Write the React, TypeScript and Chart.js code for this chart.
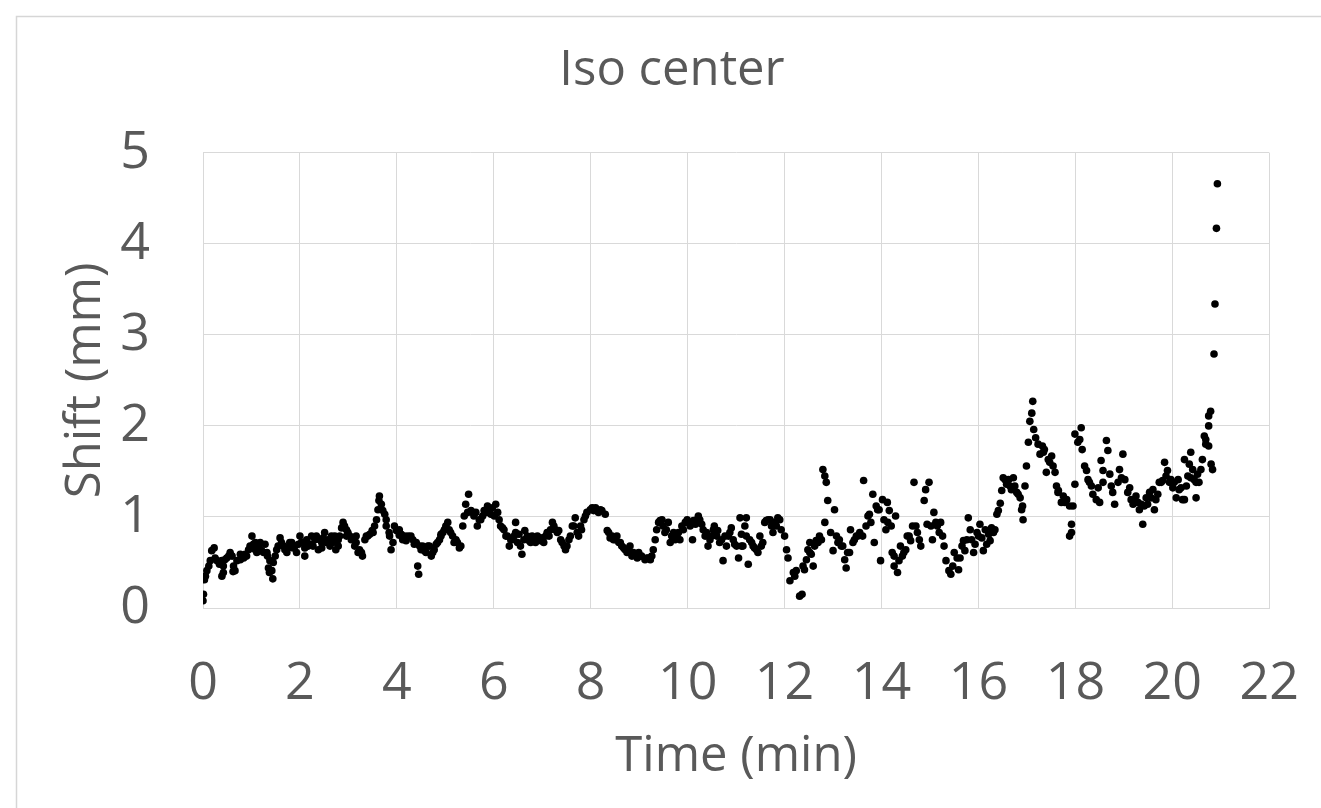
import React, { useEffect, useRef } from "react";
import { Chart, registerables } from "chart.js";

Chart.register(...registerables);

const chartTitle = "Iso center";
const xAxisTitle = "Time (min)";
const yAxisTitle = "Shift (mm)";
const xRange = [0, 22];
const yRange = [0, 5];
const xStep = 2;
const yStep = 1;

// [time (min), shift (mm)]
const segment0to4: [number, number][] = [
  [0, 0.08], [0.01, 0.15], [0.03, 0.31], [0.05, 0.35], [0.08, 0.41], [0.12, 0.46], [0.15, 0.52], [0.18, 0.63],
  [0.23, 0.66], [0.25, 0.55], [0.29, 0.52], [0.34, 0.48], [0.39, 0.35], [0.39, 0.52], [0.42, 0.39], [0.42, 0.46],
  [0.45, 0.53], [0.49, 0.55], [0.53, 0.57], [0.56, 0.61], [0.6, 0.57], [0.62, 0.4], [0.63, 0.46], [0.66, 0.41],
  [0.7, 0.52], [0.77, 0.53], [0.77, 0.59], [0.84, 0.55], [0.87, 0.59], [0.9, 0.57], [0.94, 0.64], [0.97, 0.68],
  [1.01, 0.79], [1.04, 0.7], [1.08, 0.64], [1.08, 0.72], [1.11, 0.61], [1.14, 0.68], [1.18, 0.72], [1.21, 0.63],
  [1.25, 0.61], [1.28, 0.7], [1.32, 0.61], [1.33, 0.57], [1.35, 0.44], [1.37, 0.39], [1.38, 0.52], [1.42, 0.41],
  [1.44, 0.32], [1.45, 0.5], [1.49, 0.57], [1.52, 0.64], [1.55, 0.68], [1.59, 0.77], [1.62, 0.72], [1.66, 0.68],
  [1.69, 0.64], [1.73, 0.61], [1.76, 0.66], [1.79, 0.72], [1.83, 0.72], [1.86, 0.66], [1.9, 0.68], [1.93, 0.61],
  [1.97, 0.7], [2.0, 0.79], [2.03, 0.72], [2.07, 0.72], [2.1, 0.57], [2.1, 0.66], [2.14, 0.75], [2.17, 0.68],
  [2.21, 0.7], [2.24, 0.79], [2.27, 0.68], [2.31, 0.75], [2.34, 0.79], [2.38, 0.64], [2.41, 0.75], [2.45, 0.72],
  [2.45, 0.66], [2.48, 0.77], [2.51, 0.83], [2.55, 0.72], [2.58, 0.75], [2.62, 0.68], [2.65, 0.79], [2.68, 0.72],
  [2.72, 0.79], [2.74, 0.64], [2.79, 0.75], [2.79, 0.68], [2.82, 0.79], [2.86, 0.88], [2.89, 0.94], [2.92, 0.9],
  [2.96, 0.86], [2.96, 0.79], [2.99, 0.83], [3.03, 0.79], [3.06, 0.75], [3.1, 0.77], [3.13, 0.68], [3.16, 0.72],
  [3.16, 0.79], [3.2, 0.61], [3.23, 0.64], [3.27, 0.61], [3.29, 0.57], [3.34, 0.75], [3.37, 0.79], [3.4, 0.79],
  [3.44, 0.81], [3.49, 0.85], [3.51, 0.83], [3.54, 0.9], [3.58, 0.97], [3.61, 1.08], [3.63, 1.18], [3.64, 1.23],
  [3.68, 1.14], [3.71, 1.07], [3.75, 1.03], [3.78, 0.97], [3.78, 0.9], [3.84, 0.83], [3.85, 0.79], [3.88, 0.64],
  [3.92, 0.72], [3.95, 0.9], [3.99, 0.85], [4.05, 0.8], [4.05, 0.83],
];

const segment4to8: [number, number][] = [
  [4.05, 0.86], [4.09, 0.81], [4.12, 0.75], [4.16, 0.79], [4.19, 0.74], [4.23, 0.79], [4.29, 0.79], [4.33, 0.75],
  [4.36, 0.7], [4.4, 0.72], [4.43, 0.46], [4.45, 0.37], [4.47, 0.68], [4.5, 0.64], [4.53, 0.68], [4.57, 0.63],
  [4.6, 0.61], [4.64, 0.68], [4.67, 0.68], [4.71, 0.57], [4.74, 0.61], [4.77, 0.64], [4.81, 0.7], [4.84, 0.72],
  [4.88, 0.75], [4.91, 0.81], [4.91, 0.79], [4.95, 0.83], [4.98, 0.86], [5.01, 0.9], [5.05, 0.94], [5.08, 0.86],
  [5.11, 0.83], [5.15, 0.79], [5.18, 0.72], [5.22, 0.75], [5.25, 0.72], [5.29, 0.66], [5.32, 0.68], [5.36, 0.9],
  [5.39, 1.01], [5.42, 1.14], [5.46, 1.05], [5.48, 1.25], [5.53, 1.07], [5.56, 1.05], [5.59, 1.01], [5.63, 1.05],
  [5.66, 0.9], [5.7, 0.97], [5.73, 0.97], [5.77, 1.01], [5.8, 1.07], [5.84, 1.05], [5.87, 1.12], [5.9, 1.05],
  [5.94, 1.03], [5.97, 1.1], [6.01, 1.01], [6.04, 1.14], [6.08, 1.05], [6.11, 0.97], [6.14, 0.9], [6.18, 0.88],
  [6.21, 0.86], [6.25, 0.79], [6.28, 0.79], [6.32, 0.68], [6.35, 0.75], [6.38, 0.75], [6.42, 0.79], [6.45, 0.94],
  [6.45, 0.83], [6.49, 0.72], [6.52, 0.81], [6.55, 0.68], [6.58, 0.59], [6.62, 0.75], [6.64, 0.85], [6.69, 0.79],
  [6.73, 0.74], [6.76, 0.72], [6.79, 0.79], [6.83, 0.75], [6.86, 0.72], [6.9, 0.79], [6.93, 0.77], [6.97, 0.74],
  [7.0, 0.77], [7.03, 0.72], [7.07, 0.79], [7.1, 0.83], [7.14, 0.79], [7.17, 0.86], [7.21, 0.94], [7.24, 0.9],
  [7.27, 0.86], [7.31, 0.83], [7.34, 0.85], [7.38, 0.75], [7.41, 0.72], [7.45, 0.68], [7.48, 0.64], [7.51, 0.68],
  [7.55, 0.75], [7.58, 0.79], [7.62, 0.9], [7.65, 0.9], [7.68, 0.99], [7.72, 0.83], [7.75, 0.79], [7.79, 0.9],
  [7.81, 0.86], [7.86, 0.97], [7.89, 1.01], [7.92, 1.05], [7.99, 1.08], [8.03, 1.1], [8.05, 1.09], [8.06, 1.07],
  [8.1, 1.1], [8.13, 1.07], [8.16, 1.05], [8.2, 1.08],
];

const segment8to12: [number, number][] = [
  [8.23, 1.07], [8.3, 1.03], [8.34, 0.85], [8.37, 0.83], [8.4, 0.77], [8.44, 0.79], [8.47, 0.75], [8.51, 0.75],
  [8.54, 0.79], [8.58, 0.72], [8.61, 0.72], [8.64, 0.68], [8.68, 0.66], [8.71, 0.64], [8.75, 0.61], [8.78, 0.63],
  [8.81, 0.68], [8.85, 0.57], [8.88, 0.61], [8.92, 0.59], [8.96, 0.55], [8.99, 0.61], [9.02, 0.57], [9.05, 0.57],
  [9.12, 0.53], [9.16, 0.55], [9.19, 0.55], [9.23, 0.53], [9.26, 0.57], [9.29, 0.64], [9.33, 0.75], [9.36, 0.86],
  [9.4, 0.94], [9.43, 0.96], [9.47, 0.97], [9.49, 0.9], [9.53, 0.83], [9.56, 0.86], [9.6, 0.94], [9.64, 0.72],
  [9.67, 0.79], [9.71, 0.83], [9.74, 0.75], [9.78, 0.79], [9.81, 0.83], [9.84, 0.75], [9.88, 0.9], [9.91, 0.86],
  [9.95, 0.94], [9.99, 0.97], [10.01, 0.94], [10.05, 0.9], [10.1, 0.75], [10.12, 0.96], [10.16, 0.92], [10.19, 0.97],
  [10.22, 1.01], [10.25, 0.97], [10.29, 0.92], [10.32, 0.86], [10.36, 0.79], [10.39, 0.83], [10.42, 0.68], [10.46, 0.75],
  [10.49, 0.79], [10.53, 0.86], [10.55, 0.9], [10.6, 0.79], [10.62, 0.85], [10.66, 0.72], [10.7, 0.75], [10.73, 0.52],
  [10.77, 0.79], [10.8, 0.68], [10.84, 0.79], [10.87, 0.83], [10.9, 0.88], [10.94, 0.75], [10.97, 0.7], [11.01, 0.68],
  [11.05, 0.55], [11.08, 0.99], [11.11, 0.81], [11.11, 0.68], [11.14, 0.68], [11.18, 0.9], [11.21, 0.99], [11.21, 0.79],
  [11.25, 0.48], [11.28, 0.75], [11.32, 0.72], [11.35, 0.68], [11.38, 0.66], [11.42, 0.64], [11.45, 0.61], [11.49, 0.79],
  [11.52, 0.68], [11.55, 0.72], [11.59, 0.94], [11.62, 0.96], [11.66, 0.97], [11.7, 0.97], [11.73, 0.9], [11.76, 0.83],
  [11.79, 0.94], [11.83, 0.9], [11.86, 0.99],
];

const segment12to16: [number, number][] = [
  [11.9, 0.97], [11.93, 0.86], [12.0, 0.79], [12.04, 0.64], [12.07, 0.55], [12.11, 0.3], [12.18, 0.39], [12.21, 0.35],
  [12.24, 0.41], [12.31, 0.13], [12.36, 0.15], [12.38, 0.46], [12.41, 0.42], [12.45, 0.53], [12.48, 0.64], [12.52, 0.72],
  [12.52, 0.61], [12.55, 0.59], [12.59, 0.46], [12.62, 0.68], [12.65, 0.74], [12.69, 0.72], [12.72, 0.79], [12.76, 0.75],
  [12.79, 1.52], [12.83, 1.45], [12.86, 1.38], [12.83, 0.94], [12.89, 1.18], [12.95, 0.83], [13.0, 0.63], [13.03, 1.08],
  [13.07, 0.79], [13.1, 0.72], [13.13, 0.75], [13.17, 0.68], [13.2, 0.68], [13.24, 0.53], [13.27, 0.44], [13.3, 0.61],
  [13.34, 0.61], [13.36, 0.86], [13.41, 0.72], [13.44, 0.75], [13.48, 0.79], [13.51, 0.79], [13.55, 0.83], [13.61, 0.79],
  [13.63, 1.4], [13.68, 0.9], [13.72, 1.01], [13.75, 1.03], [13.78, 0.94], [13.82, 1.25], [13.85, 0.72], [13.89, 1.12],
  [13.92, 1.08], [13.95, 1.08], [13.98, 0.52], [14.02, 1.19], [14.05, 0.97], [14.09, 0.86], [14.12, 1.16], [14.13, 0.94],
  [14.16, 1.07], [14.2, 0.9], [14.22, 0.61], [14.26, 0.46], [14.26, 0.57], [14.29, 1.01], [14.33, 0.39], [14.36, 0.52],
  [14.39, 0.68], [14.43, 0.57], [14.46, 0.61], [14.5, 0.64], [14.53, 0.79], [14.57, 0.79], [14.6, 0.74], [14.64, 0.9],
  [14.67, 1.38], [14.71, 0.9], [14.74, 0.83], [14.78, 0.75], [14.81, 0.68], [14.88, 1.18], [14.91, 1.3], [14.94, 0.92],
  [14.98, 1.38], [15.02, 0.9], [15.05, 0.75], [15.08, 1.05], [15.12, 0.94], [15.15, 0.9], [15.19, 0.83], [15.22, 0.94],
  [15.26, 0.79], [15.29, 0.68], [15.33, 0.52], [15.39, 0.41], [15.43, 0.37], [15.47, 0.46], [15.5, 0.61], [15.56, 0.55],
  [15.59, 0.42], [15.62, 0.55], [15.66, 0.68], [15.69, 0.74], [15.72, 0.63], [15.76, 0.75], [15.79, 0.99], [15.83, 0.86],
  [15.86, 0.75], [15.9, 0.61], [15.93, 0.7], [15.97, 0.83],
];

const segment16to20: [number, number][] = [
  [16.0, 0.79], [16.03, 0.92], [16.07, 0.77], [16.1, 0.63], [16.14, 0.86], [16.17, 0.7], [16.21, 0.81], [16.24, 0.74],
  [16.27, 0.88], [16.31, 0.83], [16.34, 0.86], [16.38, 1.03], [16.41, 1.07], [16.45, 1.15], [16.48, 1.29], [16.51, 1.43],
  [16.55, 1.41], [16.58, 1.36], [16.62, 1.41], [16.65, 1.34], [16.68, 1.3], [16.72, 1.43], [16.75, 1.34], [16.79, 1.27],
  [16.82, 1.25], [16.86, 1.21], [16.89, 1.08], [16.91, 1.12], [16.92, 0.97], [16.96, 1.34], [16.99, 1.56], [17.03, 1.82],
  [17.06, 2.05], [17.1, 2.14], [17.12, 2.27], [17.14, 1.96], [17.18, 1.87], [17.23, 1.8], [17.27, 1.69], [17.32, 1.78],
  [17.34, 1.71], [17.36, 1.74], [17.4, 1.49], [17.44, 1.63], [17.47, 1.6], [17.51, 1.67], [17.54, 1.56], [17.58, 1.49],
  [17.61, 1.34], [17.64, 1.27], [17.65, 1.29], [17.71, 1.16], [17.75, 1.23], [17.78, 1.16], [17.82, 1.19], [17.88, 1.12],
  [17.88, 0.79], [17.92, 0.92], [17.92, 0.83], [17.95, 1.12], [17.99, 1.36], [17.99, 1.91], [18.05, 1.82], [18.09, 1.85],
  [18.12, 1.98], [18.14, 1.74], [18.19, 1.56], [18.23, 1.51], [18.26, 1.41], [18.29, 1.38], [18.33, 1.34], [18.36, 1.25],
  [18.43, 1.19], [18.47, 1.32], [18.5, 1.16], [18.53, 1.62], [18.57, 1.51], [18.57, 1.38], [18.64, 1.84], [18.67, 1.73],
  [18.71, 1.47], [18.74, 1.34], [18.77, 1.27], [18.81, 1.14], [18.88, 1.38], [18.91, 1.52], [18.95, 1.43], [18.98, 1.69],
  [19.02, 1.41], [19.08, 1.27], [19.12, 1.32], [19.15, 1.19], [19.19, 1.14], [19.22, 1.18], [19.25, 1.23], [19.29, 1.16],
  [19.32, 1.08], [19.36, 1.14], [19.39, 0.92], [19.42, 1.12], [19.46, 1.21], [19.49, 1.14], [19.53, 1.27], [19.56, 1.21],
  [19.6, 1.3], [19.63, 1.08], [19.66, 1.19], [19.7, 1.25], [19.73, 1.38], [19.77, 1.38], [19.8, 1.4], [19.84, 1.6],
  [19.87, 1.45], [19.9, 1.51], [19.94, 1.38], [19.97, 1.41],
];

const segment20to21: [number, number][] = [
  [20.01, 1.32], [20.04, 1.38], [20.08, 1.21], [20.12, 1.41], [20.14, 1.3], [20.18, 1.32], [20.21, 1.19], [20.25, 1.63],
  [20.25, 1.19], [20.29, 1.34], [20.32, 1.45], [20.35, 1.58], [20.38, 1.71], [20.38, 1.43], [20.42, 1.52], [20.45, 1.41],
  [20.49, 1.21], [20.49, 1.38], [20.52, 1.47], [20.55, 1.38], [20.59, 1.52], [20.62, 1.63], [20.66, 1.89], [20.69, 1.8],
  [20.69, 1.85], [20.75, 2.0], [20.75, 1.78], [20.75, 2.11], [20.79, 2.16], [20.8, 1.58], [20.83, 1.52], [20.86, 2.79],
  [20.88, 3.34], [20.91, 4.17], [20.93, 4.66],
];

const allSamples = [
  ...segment0to4,
  ...segment4to8,
  ...segment8to12,
  ...segment12to16,
  ...segment16to20,
  ...segment20to21,
];

export default function App() {
  const ref = useRef<HTMLCanvasElement>(null);

  useEffect(() => {
    const canvas = ref.current;
    if (!canvas) return;
    const family = "'Open Sans', 'Noto Sans', sans-serif";
    const textColor = "#595959";
    const gridColor = "#d9d9d9";

    const framePlugin = {
      id: "frame",
      beforeDraw(chart: any) {
        const ctx = chart.ctx;
        ctx.save();
        ctx.fillStyle = "#ffffff";
        ctx.fillRect(0, 0, chart.width, chart.height);
        ctx.strokeStyle = "#d6d6d6";
        ctx.lineWidth = 1.5;
        ctx.strokeRect(16.5, 16.5, 1400, 900);
        ctx.restore();
      },
    };

    const chart = new Chart(canvas, {
      type: "scatter",
      data: {
        datasets: [
          {
            data: allSamples.map(([x, y]) => ({ x, y })),
            backgroundColor: "#000000",
            borderColor: "#000000",
            borderWidth: 0,
            pointRadius: 3.8,
            pointHoverRadius: 3.8,
          },
        ],
      },
      options: {
        responsive: false,
        animation: false,
        events: [],
        layout: { padding: 0 },
        plugins: {
          legend: { display: false },
          tooltip: { enabled: false },
          title: {
            display: true,
            text: chartTitle,
            color: textColor,
            font: { family, size: 49, weight: "normal", lineHeight: 1.2 },
            padding: { top: 42, bottom: 52 },
          },
        },
        scales: {
          x: {
            type: "linear",
            min: xRange[0],
            max: xRange[1],
            ticks: {
              stepSize: xStep,
              color: textColor,
              font: { family, size: 52, lineHeight: 1.2 },
              padding: 45,
              maxRotation: 0,
              autoSkip: false,
            },
            grid: { color: gridColor, lineWidth: 1, drawTicks: false },
            border: { color: gridColor, width: 1 },
            title: {
              display: true,
              text: xAxisTitle,
              color: textColor,
              font: { family, size: 49, lineHeight: 1.2 },
              padding: { top: 0, bottom: 22 },
            },
            afterFit(scale: any) {
              scale.height = 200;
            },
          },
          y: {
            type: "linear",
            min: yRange[0],
            max: yRange[1],
            ticks: {
              stepSize: yStep,
              color: textColor,
              font: { family, size: 52, lineHeight: 1.2 },
              padding: 53,
            },
            grid: { color: gridColor, lineWidth: 1, drawTicks: false },
            border: { color: gridColor, width: 1 },
            title: {
              display: true,
              text: yAxisTitle,
              color: textColor,
              font: { family, size: 49, lineHeight: 1.2 },
              padding: { top: 57, bottom: 0 },
            },
            afterFit(scale: any) {
              scale.width = 203;
            },
          },
          spacer: {
            type: "linear",
            position: "right",
            display: true,
            min: yRange[0],
            max: yRange[1],
            grid: { display: false, drawTicks: false },
            border: { display: false },
            ticks: { display: false },
            afterFit(scale: any) {
              scale.width = 71;
            },
          },
        },
      } as any,
      plugins: [framePlugin],
    });

    return () => chart.destroy();
  }, []);

  return (
    <div
      style={{
        position: "fixed",
        left: 0,
        top: 0,
        width: 1321,
        height: 808,
        overflow: "hidden",
        background: "#ffffff",
      }}
    >
      <canvas ref={ref} width={1344} height={808} style={{ display: "block", width: 1344, height: 808 }} />
    </div>
  );
}
